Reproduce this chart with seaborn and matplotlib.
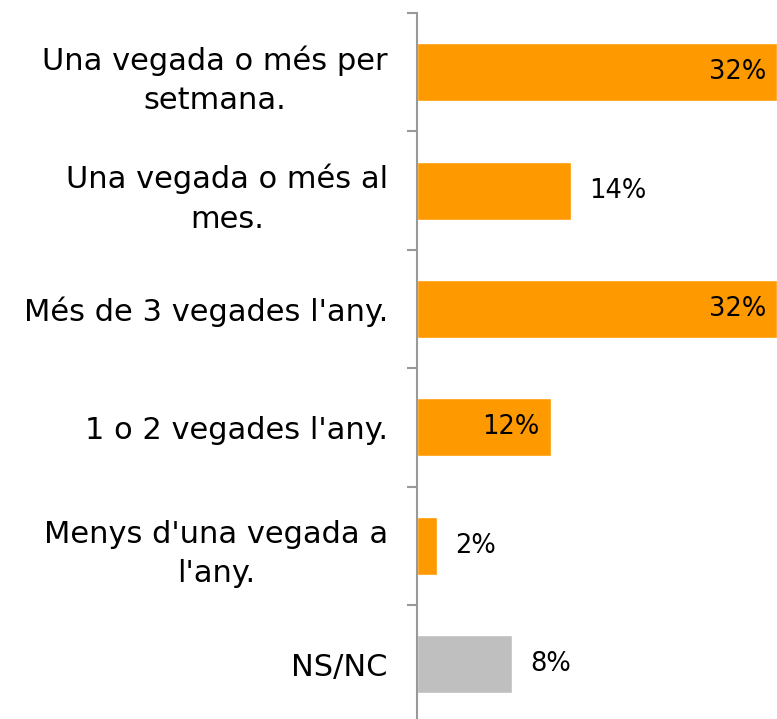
import pandas as pd
import matplotlib
matplotlib.use("Agg")
import matplotlib.pyplot as plt
import seaborn as sns

categories = [
    "Una vegada o més per\nsetmana.",
    "Una vegada o més al\nmes.",
    "Més de 3 vegades l'any.",
    "1 o 2 vegades l'any.",
    "Menys d'una vegada a\nl'any.",
    "NS/NC",
]
values = [32.3, 13.8, 32.3, 12.0, 1.8, 8.5]
bar_colors = ["#FF9900", "#FF9900", "#FF9900", "#FF9900", "#FF9900", "#BFBFBF"]
label_inside = [True, False, True, True, False, False]

df = pd.DataFrame({"category": categories, "value": values})

sns.set_style("white")
plt.rcParams["font.family"] = ["DejaVu Sans"]

fig = plt.figure(figsize=(7.77, 7.19), dpi=100)
ax = fig.add_axes([0.5367, -0.006, 0.4633, 0.988])

sns.barplot(data=df, x="value", y="category", hue="category", palette=bar_colors,
            legend=False, width=0.49, orient="h", ax=ax, saturation=1)

ax.set_xlim(0, 32.3)
ax.set_ylim(len(categories) - 0.5, -0.5)
ax.set_xlabel("")
ax.set_ylabel("")
ax.set_xticks([])

for s in ["top", "right", "bottom"]:
    ax.spines[s].set_visible(False)
ax.spines["left"].set_color("#999999")
ax.spines["left"].set_linewidth(1.5)

# category boundary ticks
ax.set_yticks([i - 0.5 for i in range(len(categories) + 1)], minor=True)
ax.tick_params(axis="y", which="minor", left=True, length=7.5, width=1.5,
               color="#999999", direction="out")
ax.tick_params(axis="y", which="major", left=False, length=0, pad=21,
               labelsize=22, labelcolor="black")
for lbl in ax.get_yticklabels():
    lbl.set_multialignment("center")
    lbl.set_linespacing(1.45)

for i, v in enumerate(values):
    txt = f"{round(v)}%"
    if label_inside[i]:
        ax.annotate(txt, (v, i), xytext=(-8, 0), textcoords="offset points",
                    ha="right", va="center", fontsize=18.5, color="black")
    else:
        ax.annotate(txt, (v, i), xytext=(13, 0), textcoords="offset points",
                    ha="left", va="center", fontsize=18.5, color="black")

fig.savefig("out.png", dpi=100)
